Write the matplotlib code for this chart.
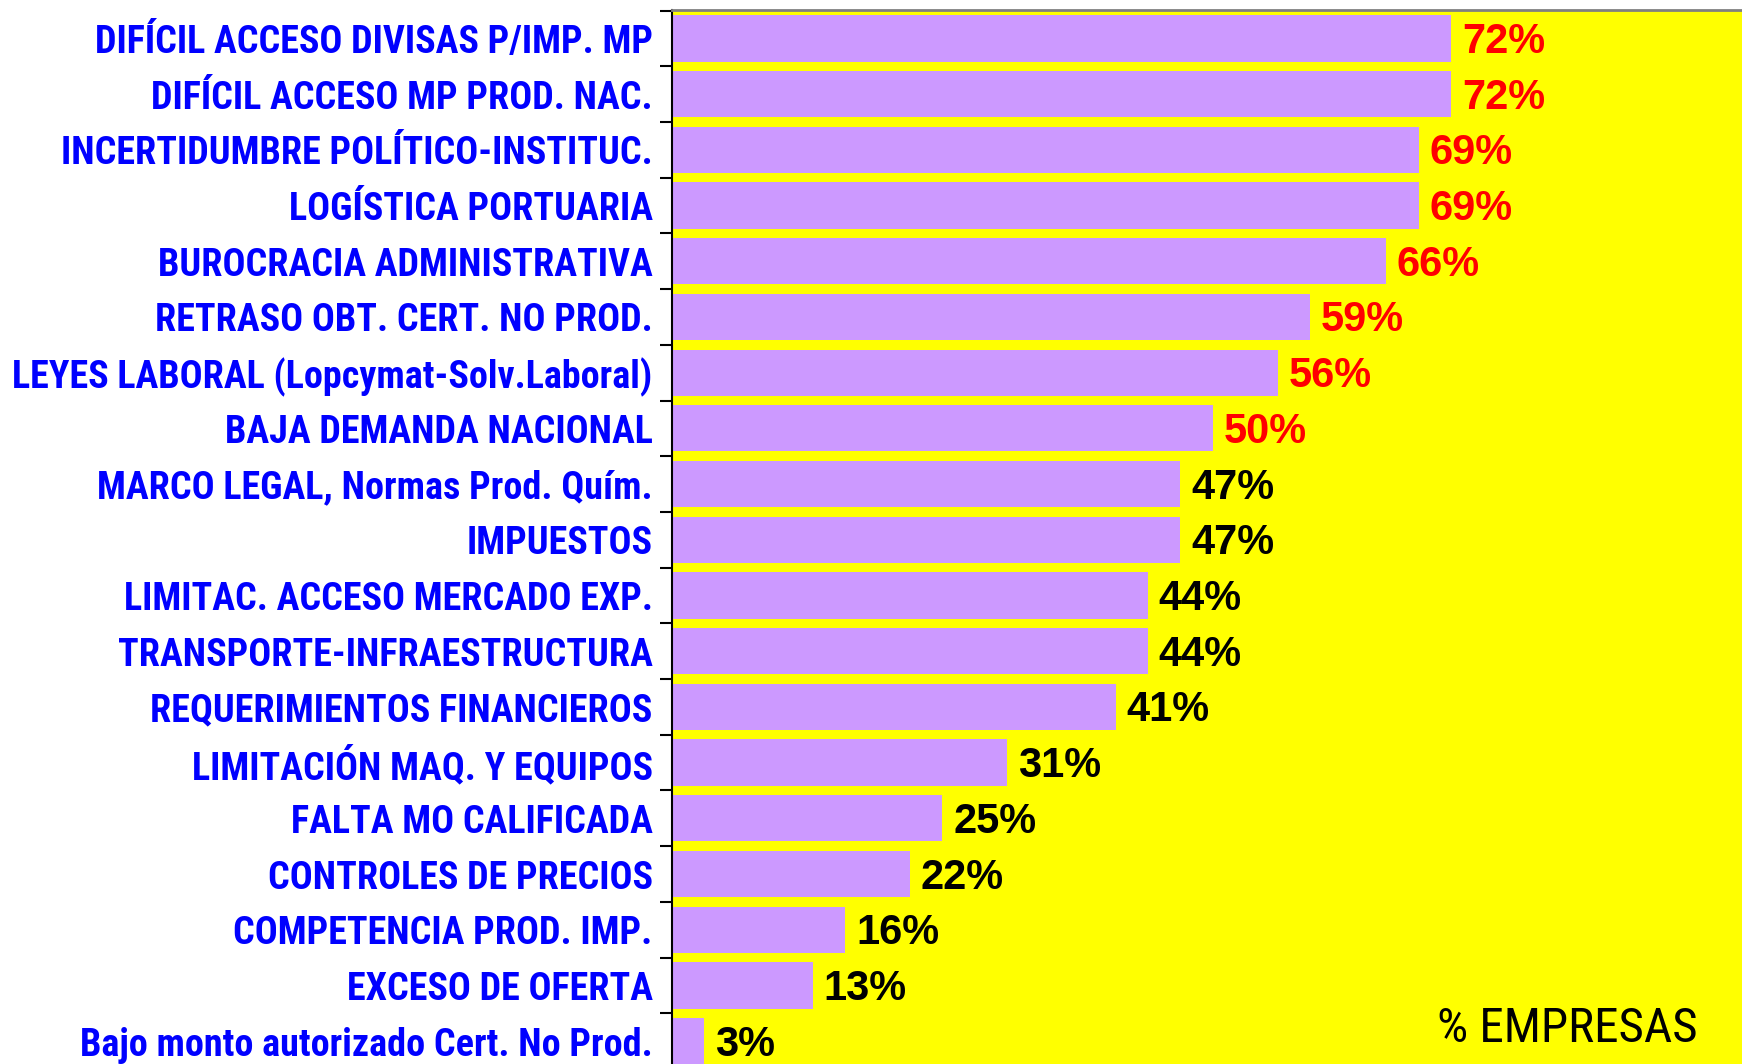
import matplotlib.pyplot as plt
from matplotlib import font_manager
import numpy as np

categories = ['DIFÍCIL ACCESO DIVISAS P/IMP. MP', 'DIFÍCIL ACCESO MP PROD. NAC.',
              'INCERTIDUMBRE POLÍTICO-INSTITUC.', 'LOGÍSTICA PORTUARIA',
              'BUROCRACIA ADMINISTRATIVA', 'RETRASO OBT. CERT. NO PROD.',
              'LEYES LABORAL (Lopcymat-Solv.Laboral)', 'BAJA DEMANDA NACIONAL',
              'MARCO LEGAL, Normas Prod. Quím.', 'IMPUESTOS',
              'LIMITAC. ACCESO MERCADO EXP.', 'TRANSPORTE-INFRAESTRUCTURA',
              'REQUERIMIENTOS FINANCIEROS', 'LIMITACIÓN MAQ. Y EQUIPOS',
              'FALTA MO CALIFICADA', 'CONTROLES DE PRECIOS',
              'COMPETENCIA PROD. IMP.', 'EXCESO DE OFERTA',
              'Bajo monto autorizado Cert. No Prod.']
values = [72, 72, 69, 69, 66, 59, 56, 50, 47, 47, 44, 44, 41, 31, 25, 22, 16, 13, 3]

# pick a narrow font if one is installed
names = {f.name for f in font_manager.fontManager.ttflist}
fam = 'Liberation Sans'
for cand in ['Liberation Sans Narrow', 'Roboto Condensed', 'Open Sans Condensed',
             'DejaVu Sans Condensed']:
    if cand in names:
        fam = cand
        break
plt.rcParams['font.family'] = [fam, 'DejaVu Sans']

fig = plt.figure(figsize=(17.42, 10.64), dpi=100)
ax = fig.add_axes([672/1742, 0, 1 - 672/1742, 1 - 10/1064])
ax.set_facecolor('#FFFF00')

y = np.arange(len(categories))
ax.barh(y, values, height=0.83, color='#CC99FF')

vals_txt = []
for yi, v in zip(y, values):
    col = '#FF0000' if v >= 50 else 'black'
    # baseline placed so the digits sit centred on the bar
    t = ax.text(v + 1.0, yi + 0.26, f'{v}%', va='baseline', ha='left', fontsize=30,
                fontweight='bold', color=col, family=['Liberation Sans', 'DejaVu Sans'])
    vals_txt.append(t)

ax.set_xlim(0, 98.9)
ax.set_ylim(18.41, -0.51)
ax.set_xticks([])
ax.set_yticks(y)
ax.set_yticklabels(categories, fontsize=27, fontweight='bold', color='#0000FF')
ax.set_yticks(np.arange(-0.5, 18.5, 1), minor=True)
ax.tick_params(axis='y', which='major', length=0, pad=14)
ax.tick_params(axis='y', which='minor', length=9, width=1.5, color='black')

for s in ['right', 'bottom']:
    ax.spines[s].set_visible(False)
ax.spines['top'].set_color('#808080')
ax.spines['top'].set_linewidth(2)
ax.spines['left'].set_linewidth(1.5)

emp = ax.text((1698 - 672) / 1070, (1064 - 1042) / 1054, '% EMPRESAS',
              transform=ax.transAxes, ha='right', va='baseline', fontsize=30,
              color='black')

# size text to the widths seen in the chart
fig.canvas.draw()
r = fig.canvas.get_renderer()
lab = ax.get_yticklabels()
w = lab[6].get_window_extent(r).width
s = lab[6].get_fontsize() * 640 / w
for t in lab:
    t.set_fontsize(s)
w = vals_txt[0].get_window_extent(r).width
s = vals_txt[0].get_fontsize() * 83 / w
for t in vals_txt:
    t.set_fontsize(s)
w = emp.get_window_extent(r).width
emp.set_fontsize(emp.get_fontsize() * 261 / w)

fig.savefig('out.png', dpi=100)
